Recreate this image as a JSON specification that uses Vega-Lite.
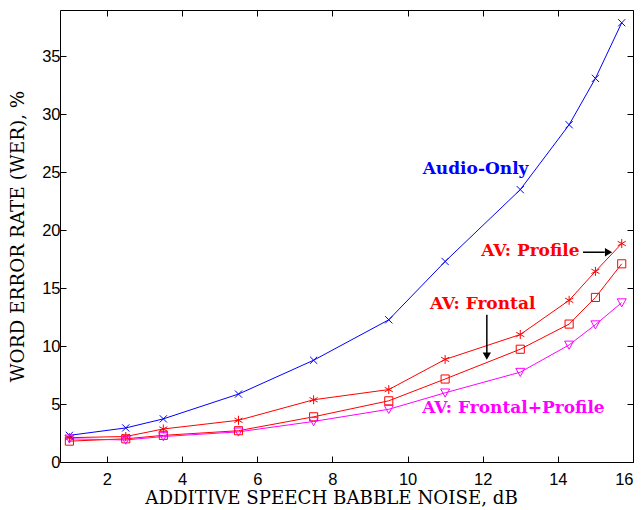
{
  "$schema": "https://vega.github.io/schema/vega-lite/v6.json",
  "width": 573,
  "height": 452,
  "autosize": {"type": "none"},
  "padding": {"left": 60, "top": 10, "right": 9, "bottom": 48},
  "background": "white",
  "config": {
    "view": {"stroke": "black", "strokeWidth": 1},
    "axis": {"grid": false, "domain": false, "tickColor": "black", "labelColor": "black", "titleColor": "black", "labelFont": "Liberation Sans", "labelFontSize": 16.5, "titleFont": "DejaVu Serif", "titleFontWeight": "normal", "titleFontSize": 18.4, "tickSize": -6, "tickWidth": 1}
  },
  "datasets": {
    "series": [
      {"system": "Audio-Only", "noise": 1, "wer": 2.3},
      {"system": "Audio-Only", "noise": 2.5, "wer": 2.94},
      {"system": "Audio-Only", "noise": 3.5, "wer": 3.72},
      {"system": "Audio-Only", "noise": 5.5, "wer": 5.86},
      {"system": "Audio-Only", "noise": 7.5, "wer": 8.78},
      {"system": "Audio-Only", "noise": 9.5, "wer": 12.27},
      {"system": "Audio-Only", "noise": 11, "wer": 17.3},
      {"system": "Audio-Only", "noise": 13, "wer": 23.5},
      {"system": "Audio-Only", "noise": 14.3, "wer": 29.1},
      {"system": "Audio-Only", "noise": 15, "wer": 33.1},
      {"system": "Audio-Only", "noise": 15.7, "wer": 37.9},
      {"system": "AV: Profile", "noise": 1, "wer": 2.1},
      {"system": "AV: Profile", "noise": 2.5, "wer": 2.2},
      {"system": "AV: Profile", "noise": 3.5, "wer": 2.85},
      {"system": "AV: Profile", "noise": 5.5, "wer": 3.6},
      {"system": "AV: Profile", "noise": 7.5, "wer": 5.37},
      {"system": "AV: Profile", "noise": 9.5, "wer": 6.25},
      {"system": "AV: Profile", "noise": 11, "wer": 8.85},
      {"system": "AV: Profile", "noise": 13, "wer": 11.0},
      {"system": "AV: Profile", "noise": 14.3, "wer": 13.95},
      {"system": "AV: Profile", "noise": 15, "wer": 16.45},
      {"system": "AV: Profile", "noise": 15.7, "wer": 18.85},
      {"system": "AV: Frontal", "noise": 1, "wer": 1.8},
      {"system": "AV: Frontal", "noise": 2.5, "wer": 2.0},
      {"system": "AV: Frontal", "noise": 3.5, "wer": 2.3},
      {"system": "AV: Frontal", "noise": 5.5, "wer": 2.7},
      {"system": "AV: Frontal", "noise": 7.5, "wer": 3.9},
      {"system": "AV: Frontal", "noise": 9.5, "wer": 5.28},
      {"system": "AV: Frontal", "noise": 11, "wer": 7.16},
      {"system": "AV: Frontal", "noise": 13, "wer": 9.73},
      {"system": "AV: Frontal", "noise": 14.3, "wer": 11.9},
      {"system": "AV: Frontal", "noise": 15, "wer": 14.2},
      {"system": "AV: Frontal", "noise": 15.7, "wer": 17.1},
      {"system": "AV: Frontal+Profile", "noise": 1, "wer": 2.0},
      {"system": "AV: Frontal+Profile", "noise": 2.5, "wer": 1.9},
      {"system": "AV: Frontal+Profile", "noise": 3.5, "wer": 2.2},
      {"system": "AV: Frontal+Profile", "noise": 5.5, "wer": 2.6},
      {"system": "AV: Frontal+Profile", "noise": 7.5, "wer": 3.5},
      {"system": "AV: Frontal+Profile", "noise": 9.5, "wer": 4.55},
      {"system": "AV: Frontal+Profile", "noise": 11, "wer": 5.97},
      {"system": "AV: Frontal+Profile", "noise": 13, "wer": 7.75},
      {"system": "AV: Frontal+Profile", "noise": 14.3, "wer": 10.1},
      {"system": "AV: Frontal+Profile", "noise": 15, "wer": 11.85},
      {"system": "AV: Frontal+Profile", "noise": 15.7, "wer": 13.75}
    ],
    "labels": [
      {"label": "Audio-Only", "x": 11.81, "y": 25.25, "color": "#0000ff"},
      {"label": "AV: Profile", "x": 13.27, "y": 18.24, "color": "#ff0000"},
      {"label": "AV: Frontal", "x": 12.0, "y": 13.6, "color": "#ff0000"},
      {"label": "AV: Frontal+Profile", "x": 12.82, "y": 4.62, "color": "#ff00ff"}
    ],
    "arrows": [
      {"x": 14.67, "x2": 15.25, "y": 18.1, "y2": 18.1},
      {"x": 12.11, "x2": 12.11, "y": 12.7, "y2": 9.3}
    ],
    "heads": [
      {"x": 15.35, "y": 18.1, "shape": "triangle-right"},
      {"x": 12.11, "y": 9.13, "shape": "triangle-down"}
    ]
  },
  "layer": [
    {
      "data": {"name": "series"},
      "mark": {"type": "line", "strokeWidth": 1, "clip": true},
      "encoding": {
        "x": {"field": "noise", "type": "quantitative", "scale": {"domain": [0.75, 16], "nice": false, "zero": false},
              "axis": {"orient": "bottom", "values": [2, 4, 6, 8, 10, 12, 14, 16], "labelPadding": 15, "title": "ADDITIVE SPEECH BABBLE NOISE, dB", "titlePadding": 2, "titleFontSize": 18.2, "titleX": 271}},
        "y": {"field": "wer", "type": "quantitative", "scale": {"domain": [0, 39], "nice": false, "zero": false},
              "axis": {"orient": "left", "values": [0, 5, 10, 15, 20, 25, 30, 35], "labelPadding": 6, "title": "WORD ERROR RATE (WER), %", "titlePadding": 14}},
        "color": {"field": "system", "type": "nominal", "scale": {"domain": ["Audio-Only", "AV: Profile", "AV: Frontal", "AV: Frontal+Profile"], "range": ["#0000ff", "#ff0000", "#ff0000", "#ff00ff"]}, "legend": null}
      }
    },
    {
      "data": {"name": "series"},
      "mark": {"type": "point", "filled": false, "strokeWidth": 1, "size": 81, "opacity": 1},
      "encoding": {
        "x": {"field": "noise", "type": "quantitative", "axis": {"orient": "top", "values": [2, 4, 6, 8, 10, 12, 14, 16], "labels": false, "title": null}},
        "y": {"field": "wer", "type": "quantitative", "axis": {"orient": "right", "values": [0, 5, 10, 15, 20, 25, 30, 35], "labels": false, "title": null}},
        "color": {"field": "system", "type": "nominal", "legend": null},
        "shape": {"field": "system", "type": "nominal", "scale": {"domain": ["Audio-Only", "AV: Profile", "AV: Frontal", "AV: Frontal+Profile"], "range": ["M-0.8,-0.8L0.8,0.8M-0.8,0.8L0.8,-0.8", "M0,-1L0,1M-0.9,-0.5L0.9,0.5M-0.9,0.5L0.9,-0.5", "M-0.9,-0.9L0.9,-0.9L0.9,0.9L-0.9,0.9Z", "M-1,-0.85L1,-0.85L0,0.95Z"]}, "legend": null}
      }
    },
    {
      "data": {"name": "arrows"},
      "mark": {"type": "rule", "color": "black", "strokeWidth": 1.5},
      "encoding": {
        "x": {"field": "x", "type": "quantitative", "axis": null},
        "x2": {"field": "x2"},
        "y": {"field": "y", "type": "quantitative", "axis": null},
        "y2": {"field": "y2"}
      }
    },
    {
      "data": {"name": "heads"},
      "mark": {"type": "point", "filled": true, "color": "black", "size": 70, "opacity": 1},
      "encoding": {
        "x": {"field": "x", "type": "quantitative", "axis": null},
        "y": {"field": "y", "type": "quantitative", "axis": null},
        "shape": {"field": "shape", "type": "nominal", "scale": null}
      }
    },
    {
      "data": {"name": "labels"},
      "mark": {"type": "text", "font": "DejaVu Serif", "fontWeight": "bold", "fontSize": 17, "align": "center", "baseline": "middle"},
      "encoding": {
        "x": {"field": "x", "type": "quantitative", "axis": null},
        "y": {"field": "y", "type": "quantitative", "axis": null},
        "text": {"field": "label"},
        "color": {"field": "color", "type": "nominal", "scale": null}
      }
    }
  ],
  "resolve": {"axis": {"x": "independent", "y": "independent"}}
}
